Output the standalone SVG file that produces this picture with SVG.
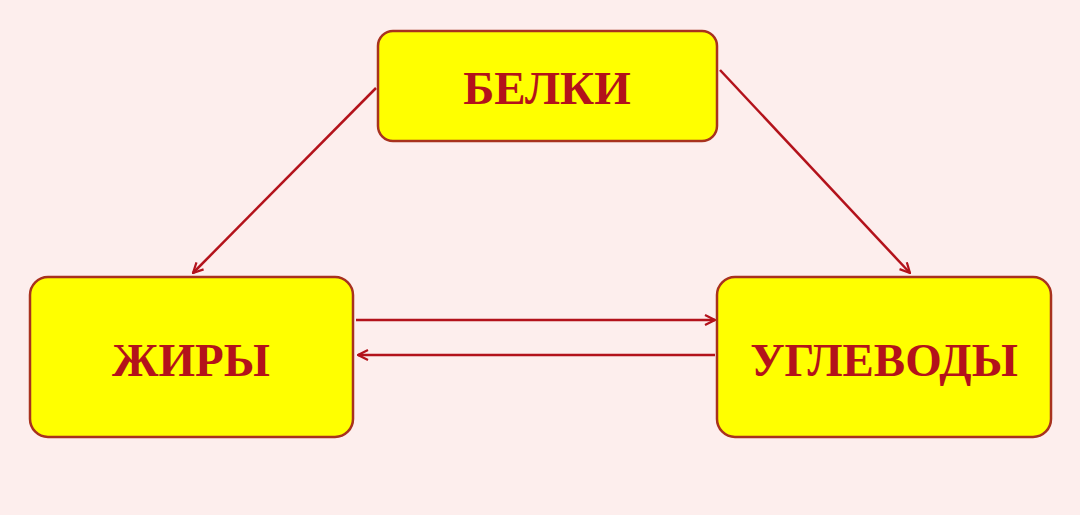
<svg xmlns="http://www.w3.org/2000/svg" width="1080" height="515" viewBox="0 0 1080 515">
<style>
.box{fill:#ffff00;stroke:#a8321e;stroke-width:2.5}
.t{font-family:"Liberation Serif",serif;font-weight:bold;font-size:47px;fill:#b3121b;text-anchor:middle}
.c{stroke:#b3121b;stroke-width:2.5;fill:none;marker-end:url(#a)}
</style>
<defs><marker id="a" viewBox="0 0 12 12" refX="11" refY="6" markerWidth="12" markerHeight="12" markerUnits="userSpaceOnUse" orient="auto"><path d="M1,1 L11,6 L1,11" fill="none" stroke="#b3121b" stroke-width="2.2"/></marker></defs>
<rect width="1080" height="515" fill="#fdeeed"/>
<g id="connectors">
<line class="c" x1="376" y1="88" x2="193" y2="273"/>
<line class="c" x1="720" y1="70" x2="910" y2="273"/>
<line class="c" x1="356" y1="320" x2="715" y2="320"/>
<line class="c" x1="715" y1="355" x2="358" y2="355"/>
</g>
<g id="belki"><rect class="box" x="378" y="31" width="339" height="110" rx="15"/><text class="t" x="547" y="104">БЕЛКИ</text></g>
<g id="zhiry"><rect class="box" x="30" y="277" width="323" height="160" rx="18"/><text class="t" x="191" y="376">ЖИРЫ</text></g>
<g id="uglevody"><rect class="box" x="717" y="277" width="334" height="160" rx="18"/><text class="t" x="884" y="376">УГЛЕВОДЫ</text></g>
</svg>
